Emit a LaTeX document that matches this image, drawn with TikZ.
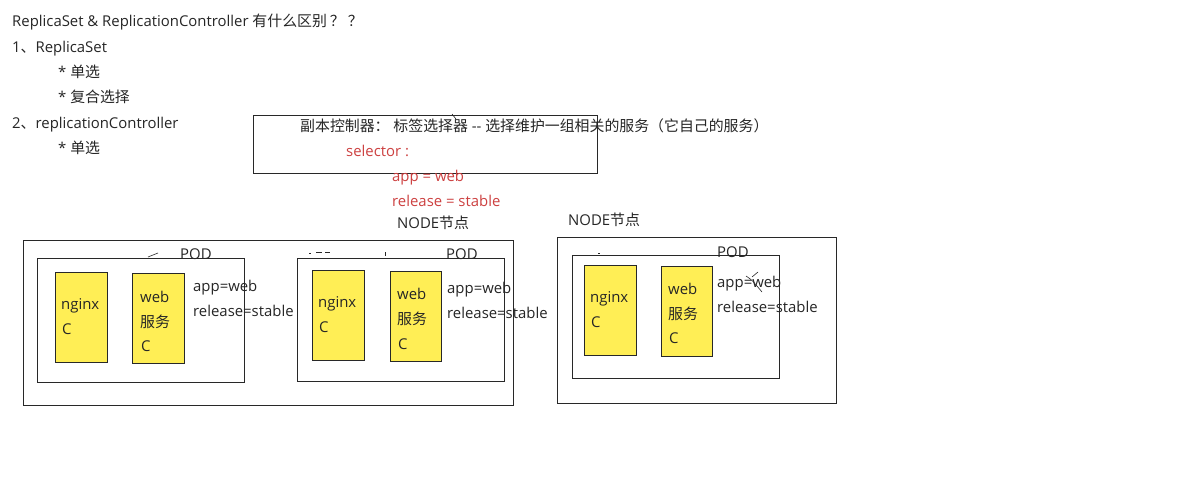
\documentclass[tikz,border=0pt]{standalone}
\usepackage{fontspec}
\setmainfont{Open Sans}
\newfontfamily\cjkfont{Noto Sans CJK SC}
\newcommand\zh[1]{{\cjkfont #1}}
\definecolor{boxyellow}{RGB}{255,238,85}
\definecolor{redtext}{RGB}{205,65,65}
\definecolor{linegray}{RGB}{40,40,40}
\begin{document}
\begin{tikzpicture}[x=1pt,y=-1pt,
  txt/.style={anchor=base west,inner sep=0pt,font=\fontsize{14.9}{16}\selectfont,text=black!85},
  rtxt/.style={txt,text=redtext},
  frame/.style={draw=linegray,line width=0.9pt},
  cbox/.style={draw=linegray,line width=0.9pt,fill=boxyellow},
  stray/.style={draw=linegray,line width=0.6pt}]
\useasboundingbox (0,0) rectangle (1191,479);
\fill[white] (0,0) rectangle (1191,479);
% left notes
\node[txt] (title) at (12,27) {ReplicaSet \& ReplicationController \zh{有什么区别\hspace{3pt}？\hspace{3pt}？}};
\node[txt] (l1) at (12,52) {1\zh{、}ReplicaSet};
\node[txt] (l1a) at (58,77) {* \zh{单选}};
\node[txt] (l1b) at (58,102) {* \zh{复合选择}};
\node[txt] (l2) at (12,128) {2\zh{、}replicationController};
\node[txt] (l2a) at (58,153) {* \zh{单选}};
% selector box
\draw[frame] (253,115) rectangle (597,173);
\node[txt] (sel0) at (300,131) {\zh{副本控制器：} \zh{标签选择器} -{}- \zh{选择维护一组相关的服务（它自己的服务）}};
\node[rtxt] (sel1) at (346,156) {selector :};
\node[rtxt] (sel2) at (392,181) {app = web};
\node[rtxt] (sel3) at (392,206) {release = stable};
\node[txt] (n1lab) at (397,228) {NODE\zh{节点}};
\node[txt] (n2lab) at (568,225) {NODE\zh{节点}};
% node 1
\draw[frame] (23,240) rectangle (513,405);
\draw[frame] (37,258) rectangle (244,382);
\node[txt] (pod1) at (180,259) {POD};
\draw[cbox] (55,272) rectangle (107,362);
\draw[cbox] (132,273) rectangle (184,363);
\node[txt] at (61,309) {nginx};
\node[txt] at (62,334) {C};
\node[txt] at (140,302) {web};
\node[txt] at (140,327) {\zh{服务}};
\node[txt] at (141,351) {C};
\node[txt] at (193,291) {app=web};
\node[txt] at (193,316) {release=stable};
% pod 2
\draw[frame] (297,258) rectangle (504,381);
\node[txt] (pod2) at (446,259) {POD};
\draw[cbox] (312,270) rectangle (364,360);
\draw[cbox] (390,271) rectangle (441,361);
\node[txt] at (318,307) {nginx};
\node[txt] at (319,332) {C};
\node[txt] at (397,299) {web};
\node[txt] at (397,324) {\zh{服务}};
\node[txt] at (398,349) {C};
\node[txt] at (447,293) {app=web};
\node[txt] at (447,318) {release=stable};
% node 3
\draw[frame] (557,237) rectangle (836,403);
\draw[frame] (572,255) rectangle (779,378);
\node[txt] (pod3) at (717,257) {POD};
\draw[cbox] (584,265) rectangle (636,355);
\draw[cbox] (661,266) rectangle (712,356);
\node[txt] at (590,302) {nginx};
\node[txt] at (591,327) {C};
\node[txt] at (668,294) {web};
\node[txt] at (668,319) {\zh{服务}};
\node[txt] at (669,343) {C};
\node[txt] at (717,287) {app=web};
\node[txt] at (717,312) {release=stable};
% stray marks
\draw[stray] (148,257) -- (158,253);
\draw[stray] (309,253) -- (311,253) (316,252) -- (322,252) (325,252) -- (330,252);
\draw[stray] (385,252) -- (385,256);
\draw[stray] (598,253) -- (600,253) (603,255) -- (604,255);
\draw[stray] (746,276) .. controls (752,280) .. (762,292);
\draw[stray] (752,277) -- (758,272);
\draw[stray] (452,114) -- (456,119);
\end{tikzpicture}
\end{document}
